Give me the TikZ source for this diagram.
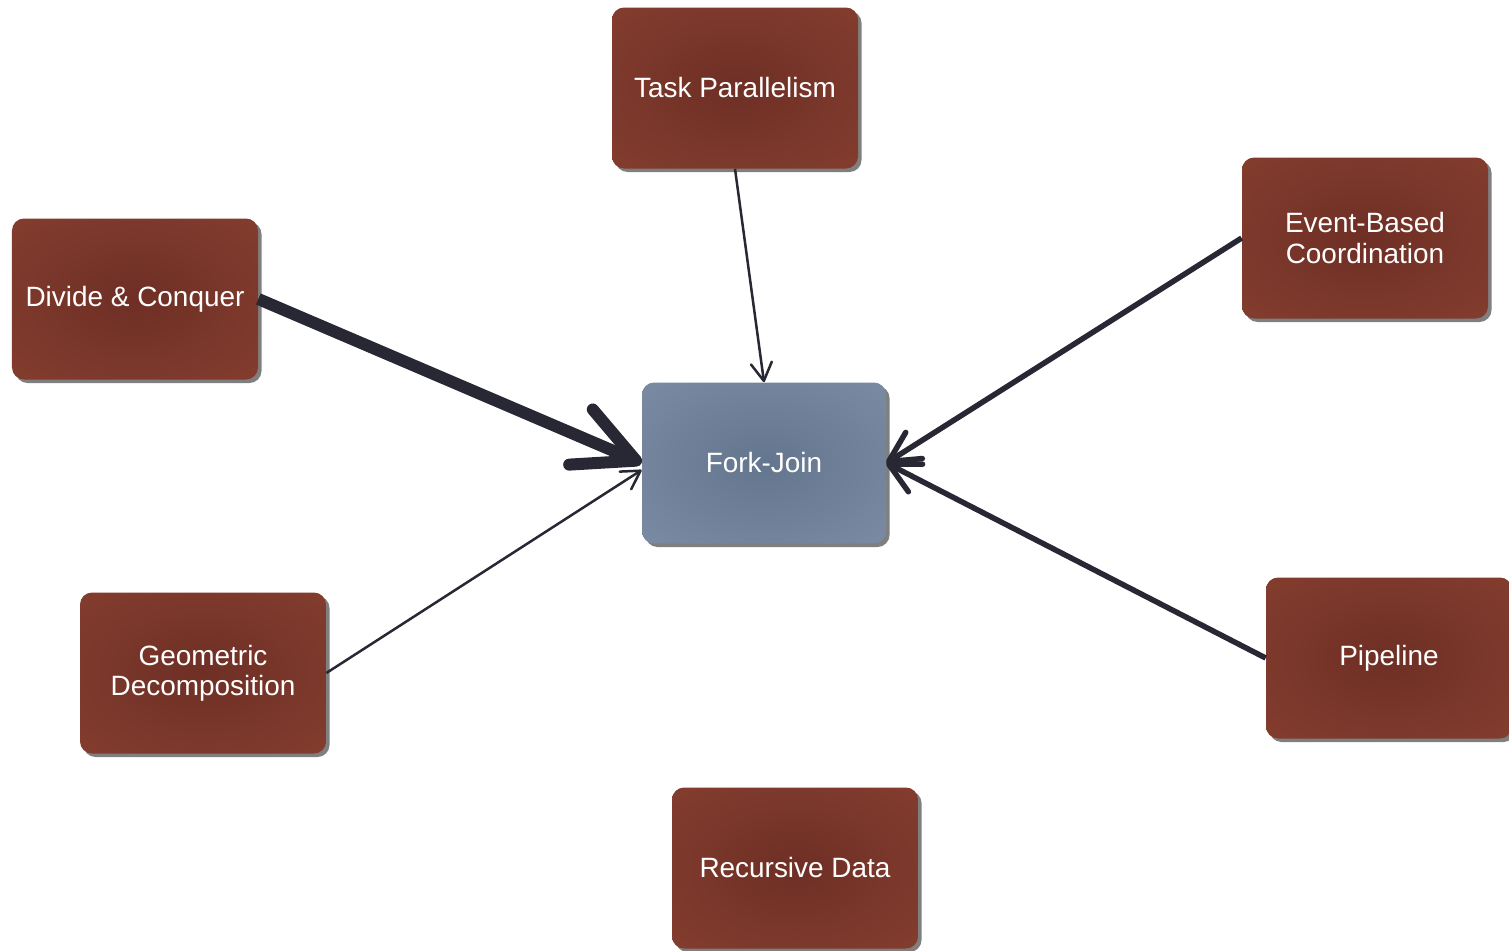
\documentclass[tikz,border=0pt]{standalone}
\usepackage{fontspec}
\setmainfont{Liberation Sans}
\usetikzlibrary{arrows.meta,shadows}

\definecolor{boxin}{RGB}{111,47,37}
\definecolor{boxout}{RGB}{132,62,47}
\definecolor{forkin}{RGB}{100,117,142}
\definecolor{forkout}{RGB}{123,140,164}
\definecolor{linec}{RGB}{39,40,51}

\pgfdeclareradialshading{softbox}{\pgfpoint{0bp}{0bp}}{color(0bp)=(boxin); color(38bp)=(boxout); color(50bp)=(boxout)}
\pgfdeclareradialshading{softfork}{\pgfpoint{0bp}{0bp}}{color(0bp)=(forkin); color(38bp)=(forkout); color(50bp)=(forkout)}

\begin{document}
\begin{tikzpicture}[
        pattern/.style={rounded corners=0.24cm, minimum width=4.92cm, minimum height=3.22cm,
            inner sep=0pt, align=center, text=white, shading=softbox,
            drop shadow={shadow xshift=0.07cm, shadow yshift=-0.07cm, fill=black, opacity=0.5},
            font=\fontsize{15.9}{17.1}\selectfont},
        core/.style={pattern, minimum width=4.88cm, shading=softfork},
        thinlink/.style={draw=linec, line width=0.05cm,
            -{Straight Barb[round, length=0.36cm, width=0.42cm]}},
        midlink/.style={draw=linec, line width=0.11cm,
            -{Straight Barb[round, length=0.6cm, width=0.62cm]}},
        thicklink/.style={draw=linec, line width=0.24cm,
            -{Straight Barb[round, length=1.2cm, width=1.2cm]}}
    ]
                \useasboundingbox (0, 0) rectangle (30.18, -19.02);

                \node[core] (fork) at (15.28, -9.26) {Fork-Join};

                \node[pattern] (task) at (14.70, -1.76) {Task Parallelism};
                \node[pattern] (divide) at (2.70, -5.98) {Divide \& Conquer};
                \node[pattern] (event) at (27.30, -4.76) {Event-Based\\Coordination};
                \node[pattern] (geo) at (4.06, -13.46) {Geometric\\Decomposition};
                \node[pattern] (pipe) at (27.78, -13.16) {Pipeline};
                \node[pattern] (recdata) at (15.90, -17.36) {Recursive Data};

                \draw[thinlink] (task.south) -- (fork.north);
                \draw[thicklink] (divide.east) -- (fork.west);
                \draw[thinlink] (geo.east) -- ([yshift=-0.14cm]fork.west);
                \draw[midlink] (event.west) -- (fork.east);
                \draw[midlink] (pipe.west) -- (fork.east);
            \end{tikzpicture}
\end{document}
